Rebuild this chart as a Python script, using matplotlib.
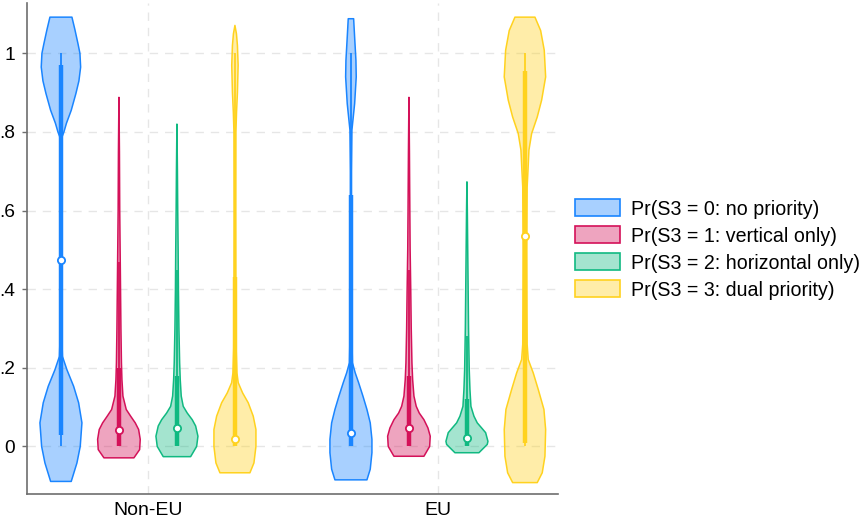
import numpy as np
import matplotlib
matplotlib.use("Agg")
import matplotlib.pyplot as plt
from matplotlib.patches import Patch

plt.rcParams['font.family'] = ['Liberation Sans', 'DejaVu Sans']

# ---------------- data ----------------
groups = ["Non-EU", "EU"]
series = ["Pr(S3 = 0: no priority)", "Pr(S3 = 1: vertical only)",
          "Pr(S3 = 2: horizontal only)", "Pr(S3 = 3: dual priority)"]
yticks = [0, 0.2, 0.4, 0.6, 0.8, 1.0]
ytick_labels = ["0", ".2", ".4", ".6", ".8", "1"]

# density profiles (y level, relative density)
nb_y = [-0.089, -0.075, -0.042, 0.0, 0.06, 0.111, 0.153, 0.195, 0.229, 0.3, 0.5, 0.7,
        0.788, 0.80, 0.822, 0.855, 0.898, 0.93, 0.965, 1.0, 1.025, 1.06, 1.092]
nb_d = [10.3, 12, 16, 19.3, 21, 17.7, 12.7, 6, 1.5, 0.6, 0.5, 0.6,
        1.2, 3, 5.5, 10.3, 15, 18, 19.7, 19, 17, 14, 11]
nr_y = [-0.029, -0.008, 0.018, 0.043, 0.06, 0.077, 0.094, 0.128, 0.17, 0.213,
        0.3, 0.4, 0.5, 0.6, 0.75, 0.888]
nr_d = [15, 20.7, 21.3, 19.7, 16.3, 11.7, 7.3, 4, 3, 2.5, 2, 1.6, 1.2, 0.8, 0.5, 0.0]
ng_y = [-0.026, 0.0, 0.026, 0.052, 0.068, 0.085, 0.102, 0.128, 0.17, 0.213,
        0.3, 0.4, 0.5, 0.6, 0.7, 0.82]
ng_d = [13.7, 19.7, 21, 18.7, 15.3, 10.3, 6.3, 4.3, 3.3, 2.7, 2.0, 1.5, 1.2, 0.8, 0.5, 0]
ny_y = [-0.067, -0.042, 0.0, 0.043, 0.077, 0.111, 0.136, 0.162, 0.187, 0.25, 0.4, 0.6,
        0.8, 0.85, 0.9, 0.97, 1.02, 1.05, 1.071]
ny_d = [15, 19, 21, 21, 18.3, 13.3, 7.7, 3.3, 2, 1.2, 1.0, 0.9,
        1.0, 1.6, 2.5, 3.2, 2.5, 1.5, 0]
eb_y = [-0.085, -0.058, -0.016, 0.018, 0.06, 0.094, 0.128, 0.162, 0.187, 0.213, 0.3,
        0.5, 0.7, 0.805, 0.83, 0.872, 0.94, 0.982, 1.041, 1.088]
eb_d = [16, 19.3, 21, 21, 19.3, 16, 12, 7.7, 4.3, 1.5, 0.8,
        0.6, 0.6, 1.0, 2, 3.7, 5.3, 5, 3.7, 2.7]
er_y = [-0.025, 0.0, 0.026, 0.047, 0.068, 0.085, 0.102, 0.128, 0.17, 0.213,
        0.3, 0.4, 0.5, 0.6, 0.75, 0.888]
er_d = [15, 20.7, 21.3, 19, 15, 10.3, 7.3, 5, 3.7, 3, 2.3, 1.8, 1.2, 0.9, 0.5, 0]
eg_y = [-0.016, 0.005, 0.013, 0.035, 0.047, 0.06, 0.077, 0.102, 0.145, 0.195,
        0.3, 0.4, 0.5, 0.6, 0.673]
eg_d = [12, 20.3, 21, 18.7, 14.7, 10.3, 7, 4, 3, 2.3, 1.6, 1.2, 0.8, 0.4, 0]
ey_y = [-0.092, -0.067, -0.025, 0.043, 0.094, 0.145, 0.187, 0.221, 0.26, 0.35, 0.5,
        0.66, 0.7, 0.754, 0.796, 0.838, 0.881, 0.94, 1.008, 1.058, 1.092]
ey_d = [12.3, 17.3, 20, 20.7, 19, 13.3, 8.3, 3.3, 2.2, 2, 1.8,
        2.2, 3, 4, 6.7, 12.3, 16.7, 20.7, 19.3, 15.7, 10]

# box statistics: lower adjacent, q1, median, q3, upper adjacent
nb_box = [0.0, 0.03, 0.475, 0.97, 1.0]
nr_box = [0.0, 0.0, 0.042, 0.2, 0.47]
ng_box = [0.0, 0.0, 0.047, 0.18, 0.45]
ny_box = [0.0, 0.0, 0.02, 0.43, 1.0]
eb_box = [0.0, 0.0, 0.035, 0.64, 1.0]
er_box = [0.0, 0.0, 0.048, 0.18, 0.45]
eg_box = [0.0, 0.0, 0.022, 0.12, 0.28]
ey_box = [0.0, 0.01, 0.535, 0.955, 1.0]

profiles = [[(nb_y, nb_d, nb_box), (nr_y, nr_d, nr_box), (ng_y, ng_d, ng_box), (ny_y, ny_d, ny_box)],
            [(eb_y, eb_d, eb_box), (er_y, er_d, er_box), (eg_y, eg_d, eg_box), (ey_y, ey_d, ey_box)]]

# ---------------- style ----------------
colors = ["#1a85ff", "#d41159", "#10b981", "#ffd21f"]
fill_alpha = 0.38
offsets = [-0.3, -0.1, 0.1, 0.3]
width_scale = 1 / 290.0   # density unit -> x data units

fig = plt.figure(figsize=(8.61, 5.22), dpi=100)
ax = fig.add_axes([27 / 861, 28 / 522, (558 - 27) / 861, (494 - 3) / 522])

for gi, grp in enumerate(profiles):
    gx = gi + 1
    for si, (yy, dd, bx) in enumerate(grp):
        c = colors[si]
        xc = gx + offsets[si]
        yy = np.asarray(yy)
        hw = np.asarray(dd) * width_scale
        ax.fill_betweenx(yy, xc - hw, xc + hw, facecolor=c, alpha=fill_alpha,
                         edgecolor='none', zorder=2)
        ax.fill_betweenx(yy, xc - hw, xc + hw, facecolor='none', edgecolor=c,
                         linewidth=1.1, zorder=3)
        ax.plot([xc, xc], [bx[0], bx[4]], color=c, lw=1.3, solid_capstyle='butt', zorder=4)
        ax.plot([xc, xc], [bx[1], bx[3]], color=c, lw=3.2, solid_capstyle='butt', zorder=5)
        ax.plot([xc], [bx[2]], marker='o', ms=5.2, mfc='white', mec=c, mew=1.3, zorder=6)

ax.set_xlim(0.583, 2.414)
ax.set_ylim(-0.121, 1.128)
ax.set_xticks([1, 2])
ax.set_xticklabels(groups)
ax.set_yticks(yticks)
ax.set_yticklabels(ytick_labels)

ax.grid(True, color='#e6e6e6', linestyle=(0, (6, 5)), linewidth=1.0, zorder=0)
ax.set_axisbelow(True)
for s in ['top', 'right']:
    ax.spines[s].set_visible(False)
for s in ['left', 'bottom']:
    ax.spines[s].set_color('#6e6e6e')
    ax.spines[s].set_linewidth(1.2)
ax.tick_params(axis='y', length=3.6, width=1.0, color='#6e6e6e', pad=5, labelsize=13.8)
ax.tick_params(axis='x', length=0, pad=5.5, labelsize=14)

handles = [Patch(facecolor=matplotlib.colors.to_rgba(c, fill_alpha), edgecolor=c, linewidth=1.2)
           for c in colors]
fig.legend(handles, series, loc='center left', bbox_to_anchor=(575 / 861, 1 - 249.5 / 522),
           frameon=False, fontsize=14.1, handlelength=2.3, handleheight=0.95,
           handletextpad=0.55, labelspacing=0.4, borderpad=0, borderaxespad=0)

fig.savefig("out.png", dpi=100)
